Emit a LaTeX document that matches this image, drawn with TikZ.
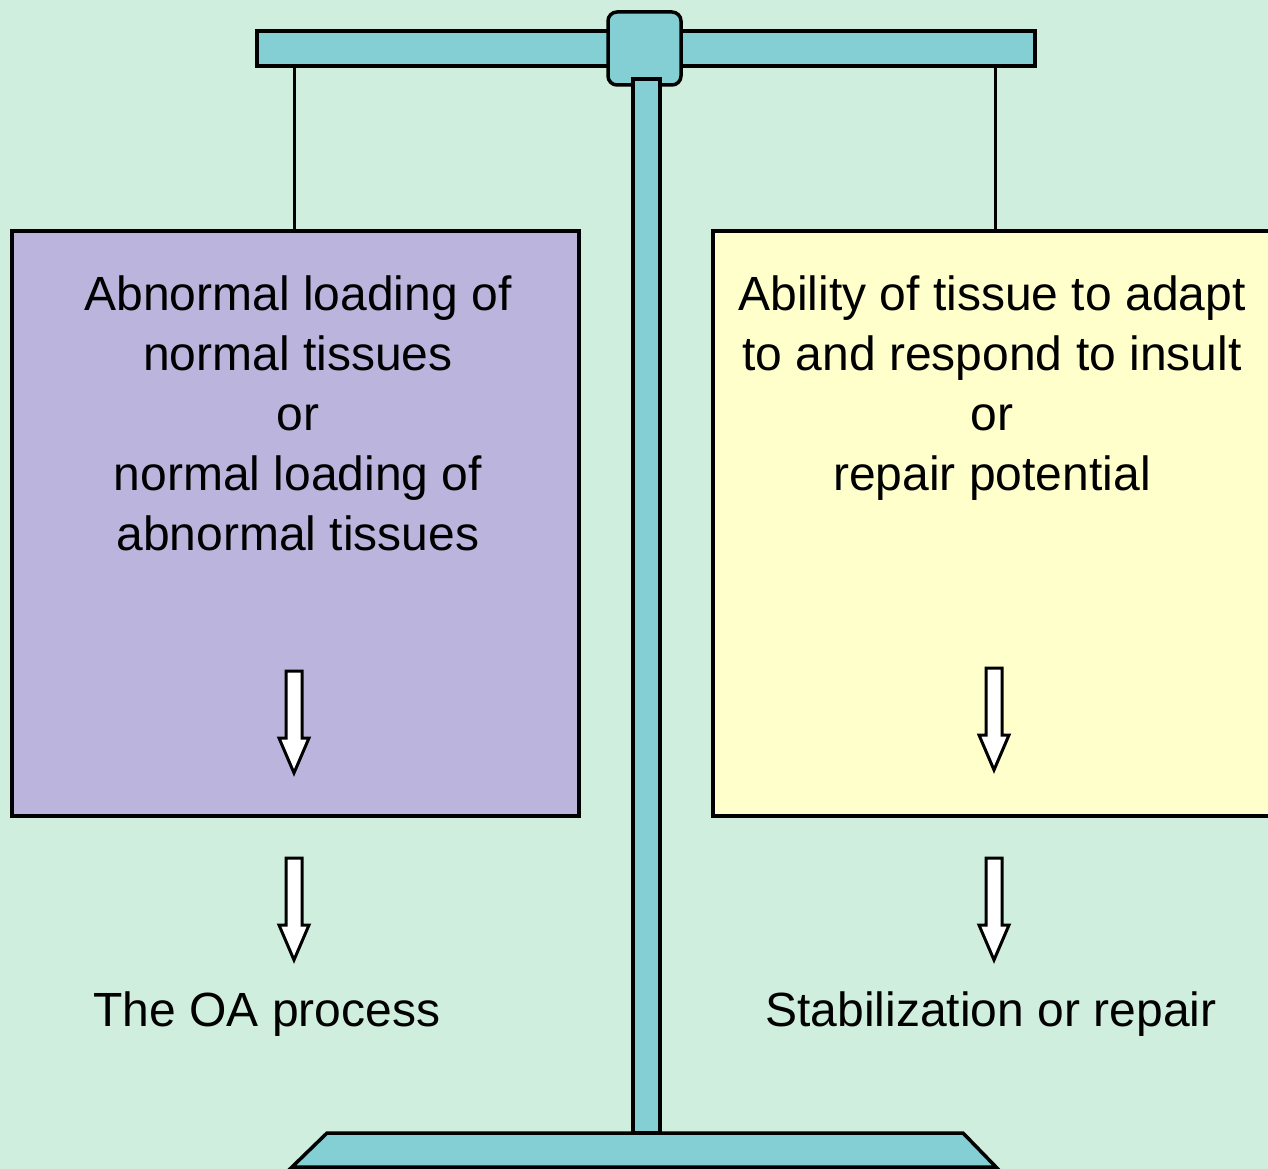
\documentclass[tikz,border=0pt]{standalone}
\usepackage{fontspec}
\setmainfont{Liberation Sans}
\definecolor{bgmint}{RGB}{207,238,222}
\definecolor{teal}{RGB}{131,207,212}
\definecolor{lilac}{RGB}{187,181,221}
\definecolor{cream}{RGB}{255,255,204}
\tikzset{
  outline/.style={draw=black, line width=3.5pt},
  panel/.style={outline, minimum width=567pt, minimum height=585pt, inner sep=0pt},
  label/.style={font=\fontsize{48}{60}\selectfont, align=center, inner sep=0pt, anchor=north},
  hollowarrow/.pic={\draw[fill=white, line width=3pt, line join=miter]
     (-8,0) -- (8,0) -- (8,67) -- (15,67) -- (0,102) -- (-15,67) -- (-8,67) -- cycle;}
}
\begin{document}
\begin{tikzpicture}[x=1pt,y=-1pt]
\useasboundingbox (0,0) rectangle (1268,1169);
\clip (0,0) rectangle (1268,1169);
\fill[bgmint] (0,0) rectangle (1268,1169);
% beam and strings
\coordinate (lhook) at (294,66);
\coordinate (rhook) at (995,66);
\node[panel, fill=lilac] (lbox) at (295.5,523.5) {};
\node[panel, fill=cream] (rbox) at (996.5,523.5) {};
\draw[outline, line width=3pt] (lhook) -- (lhook |- lbox.north);
\draw[outline, line width=3pt] (rhook) -- (rhook |- rbox.north);
\draw[outline, fill=teal] (257,31) rectangle (1035,66);
\draw[outline, fill=teal, rounded corners=9pt] (608,12) rectangle (681,85);
\draw[outline, fill=teal] (633,79) rectangle (660,1133);
\draw[outline, fill=teal] (292,1167) -- (327,1133) -- (963,1133) -- (996,1167) -- cycle;
% texts
\node[label] (ltext) at (298,276) {Abnormal loading of\\normal tissues\\or\\normal loading of\\abnormal tissues};
\node[label] (rtext) at (992,276) {Ability of tissue to adapt\\to and respond to insult\\or\\repair potential};
\node[label, anchor=base] (ltitle) at (267,1026) {The OA process};
\node[label, anchor=base] (rtitle) at (991,1026) {Stabilization or repair};
% arrows
\pic at (294,671) {hollowarrow};
\pic at (994,668) {hollowarrow};
\pic at (294,858) {hollowarrow};
\pic at (994,858) {hollowarrow};
\end{tikzpicture}
\end{document}
